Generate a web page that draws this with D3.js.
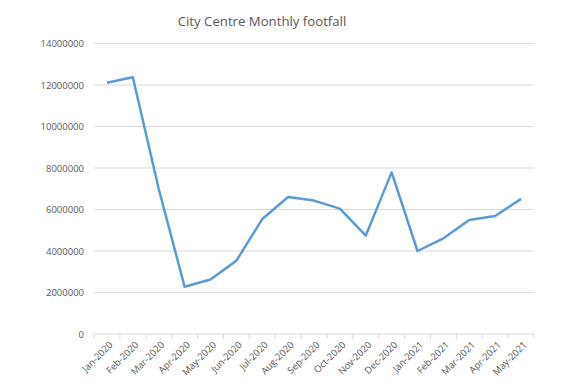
<!DOCTYPE html>
<html>
<head>
<meta charset="utf-8">
<script src="https://cdn.jsdelivr.net/npm/d3@7"></script>
<style>
  body { margin: 0; background: #fff; }
  text { font-family: "Open Sans", "Liberation Sans", sans-serif; }
</style>
</head>
<body>
<div id="chart"></div>
<script>
// data
const months = ["Jan-2020", "Feb-2020", "Mar-2020", "Apr-2020", "May-2020", "Jun-2020",
  "Jul-2020", "Aug-2020", "Sep-2020", "Oct-2020", "Nov-2020", "Dec-2020",
  "Jan-2021", "Feb-2021", "Mar-2021", "Apr-2021", "May-2021"];
const footfall = [12110000, 12370000, 7000000, 2280000, 2630000, 3530000,
  5540000, 6600000, 6430000, 6040000, 4740000, 7790000,
  4000000, 4610000, 5490000, 5690000, 6510000];
const yTicks = [0, 2000000, 4000000, 6000000, 8000000, 10000000, 12000000, 14000000];

const width = 579, height = 390;
const margin = {top: 43.5, right: 45, bottom: 56, left: 94};

const svg = d3.select('#chart').append('svg')
  .attr('width', width).attr('height', height);

const x = d3.scaleBand()
  .domain(months)
  .range([margin.left, width - margin.right]);
const y = d3.scaleLinear()
  .domain([0, 14000000])
  .range([height - margin.bottom, margin.top]);

// title
svg.append('text')
  .attr('x', 262).attr('y', 26)
  .attr('text-anchor', 'middle')
  .attr('font-size', 13.2)
  .attr('fill', '#595959')
  .text('City Centre Monthly footfall');

// gridlines
svg.append('g').selectAll('line')
  .data(yTicks.filter(d => d > 0))
  .join('line')
  .attr('x1', margin.left).attr('x2', width - margin.right)
  .attr('y1', d => y(d)).attr('y2', d => y(d))
  .attr('stroke', '#d9d9d9').attr('stroke-width', 1);

// y axis labels
const yAxis = svg.append('g')
  .attr('transform', `translate(${margin.left},0)`)
  .call(d3.axisLeft(y).tickValues(yTicks).tickFormat(d3.format('d')).tickSize(0).tickPadding(10));
yAxis.select('.domain').remove();
yAxis.selectAll('text').attr('fill', '#595959').attr('font-size', 9.5);

// x axis, ticks between categories
const x0 = y(0);
const xg = svg.append('g');
xg.append('line')
  .attr('x1', margin.left).attr('x2', width - margin.right)
  .attr('y1', x0).attr('y2', x0)
  .attr('stroke', '#d9d9d9');
xg.selectAll('line.tk')
  .data(months.concat(['end']))
  .join('line')
  .attr('class', 'tk')
  .attr('x1', (d, i) => margin.left + i * x.step())
  .attr('x2', (d, i) => margin.left + i * x.step())
  .attr('y1', x0).attr('y2', x0 + 5)
  .attr('stroke', '#d9d9d9');
xg.selectAll('text')
  .data(months)
  .join('text')
  .attr('transform', d => `translate(${x(d) + x.bandwidth() / 2 + 4},${x0 + 9}) rotate(-45)`)
  .attr('text-anchor', 'end')
  .attr('dy', '0.35em')
  .attr('font-size', 9.5)
  .attr('fill', '#595959')
  .text(d => d);

// line
const line = d3.line()
  .x((d, i) => x(months[i]) + x.bandwidth() / 2)
  .y(d => y(d));
svg.append('path')
  .datum(footfall)
  .attr('d', line)
  .attr('fill', 'none')
  .attr('stroke', '#5b9bd5')
  .attr('stroke-width', 2.5)
  .attr('stroke-linejoin', 'round');
</script>
</body>
</html>
